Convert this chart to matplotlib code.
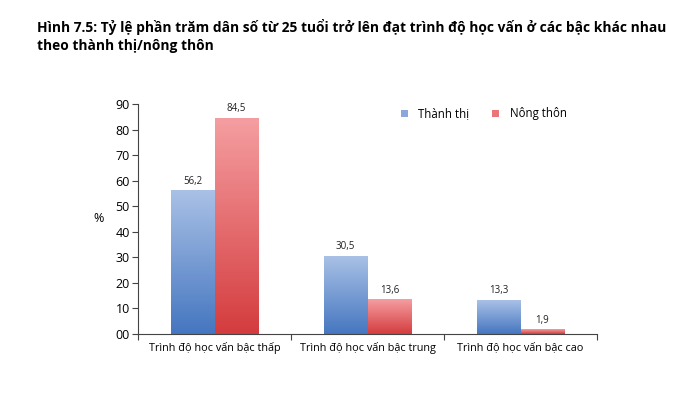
import numpy as np
import matplotlib
matplotlib.use("Agg")
import matplotlib.pyplot as plt
from matplotlib.colors import LinearSegmentedColormap
from matplotlib.patches import Patch

plt.rcParams['font.family'] = ['Open Sans', 'DejaVu Sans']

categories = ["Trình độ học vấn bậc thấp", "Trình độ học vấn bậc trung", "Trình độ học vấn bậc cao"]
series_names = ["Thành thị", "Nông thôn"]
urban = [56.2, 30.5, 13.3]
rural = [84.5, 13.6, 1.9]
yticks = [0, 10, 20, 30, 40, 50, 60, 70, 80, 90]
ytick_labels = ["00", "10", "20", "30", "40", "50", "60", "70", "80", "90"]

fig = plt.figure(figsize=(6.99, 3.94), dpi=100)
ax = fig.add_axes([138/699, 1-334/394, (597-138)/699, 230/394])

x = np.arange(len(categories))
w = 0.287
cmap_blue = LinearSegmentedColormap.from_list("b", ["#4576c0", "#a9c1e6"])
cmap_red = LinearSegmentedColormap.from_list("r", ["#d43c3e", "#f59ea1"])

grad = np.linspace(0, 1, 256).reshape(-1, 1)
for vals, off, cmap, lab in [(urban, -w/2, cmap_blue, series_names[0]), (rural, w/2, cmap_red, series_names[1])]:
    bars = ax.bar(x + off, vals, w, color="none", edgecolor="none", label=lab)
    for b, v in zip(bars, vals):
        x0 = b.get_x(); x1 = x0 + b.get_width()
        im = ax.imshow(grad, cmap=cmap, aspect="auto", origin="lower",
                       extent=[x0, x1, 0, v], zorder=2, interpolation="bilinear")
        im.set_clip_path(b)
        ax.text(b.get_x() + b.get_width()/2, v + 1.4, f"{v:.1f}".replace(".", ","),
                ha="center", va="bottom", fontsize=7, color="#222222")

ax.set_xlim(-0.5, 2.5)
ax.set_ylim(0, 90)
ax.set_yticks(yticks)
ax.set_yticklabels(ytick_labels, fontsize=9)
ax.set_xticks([-0.5, 0.5, 1.5, 2.5])
ax.set_xticklabels([])
ax.set_xticks(x, minor=True)
ax.set_xticklabels(categories, minor=True, fontsize=7.8)
ax.tick_params(axis="x", which="minor", length=0, pad=6)
ax.tick_params(axis="x", which="major", length=4, direction="out", color="#444444")
ax.tick_params(axis="y", length=4, direction="out", color="#444444", pad=2)
for s in ["top", "right"]:
    ax.spines[s].set_visible(False)
for s in ["left", "bottom"]:
    ax.spines[s].set_color("#444444")
    ax.spines[s].set_linewidth(0.8)

ax.set_ylabel("%", rotation=0, fontsize=9, labelpad=12, va="center")

handles = [Patch(facecolor="#8aa9da"), Patch(facecolor="#ea7478")]
ax.legend(handles, series_names, loc="upper left", bbox_to_anchor=(0.55, 1.03), ncol=2,
          frameon=False, fontsize=8.3, handlelength=0.6, handleheight=0.6, columnspacing=2.0,
          handletextpad=0.9)

fig.text(37/699, 1-36/394, "Hình 7.5: Tỷ lệ phần trăm dân số từ 25 tuổi trở lên đạt trình độ học vấn ở các bậc khác nhau\ntheo thành thị/nông thôn",
         fontsize=9.9, fontweight="bold", va="center", ha="left", linespacing=1.35)

fig.savefig("out.png", dpi=100)
